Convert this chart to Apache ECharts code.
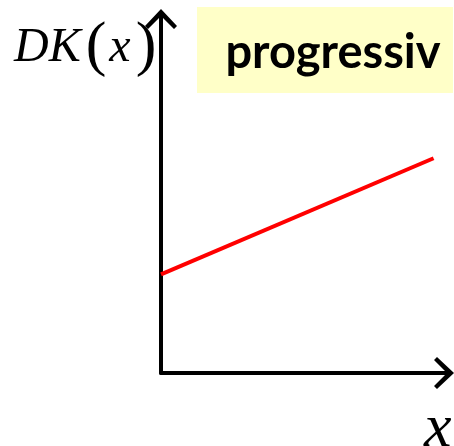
<!DOCTYPE html>
<html>
<head>
<meta charset="utf-8">
<script src="https://cdn.jsdelivr.net/npm/echarts@6/dist/echarts.min.js"></script>
<style>
  html, body { margin: 0; padding: 0; background: #fff; }
  #chart { width: 454px; height: 446px; }
</style>
</head>
<body>
<div id="chart"></div>
<script>
// values (unitless sketch axes, 0..10)
const xValues = [0, 9.7]
const yValues = [2.8, 6.1]
const badgeText = 'progressiv'
const yName = 'DK(x)'
const xName = 'x'

// open chevron arrow head (with a bit of stem so it joins the axis line)
const chevron = 'path://M16,0 L32,17 L29,20 L18,9 L18,24 L14,24 L14,9 L3,20 L0,17 Z'

const chart = echarts.init(document.getElementById('chart'))

const axisLine = {
  show: true,
  lineStyle: { color: '#000', width: 4 },
  symbol: ['none', chevron],
  symbolSize: [32, 24],
  symbolOffset: [0, 0],
}

chart.setOption({
  animation: false,
  grid: { left: 161, right: 12, top: 21, bottom: 73 },
  xAxis: {
    type: 'value',
    min: 0,
    max: 10,
    axisLine,
    axisTick: { show: false },
    axisLabel: { show: false },
    splitLine: { show: false },
  },
  yAxis: {
    type: 'value',
    min: 0,
    max: 10,
    axisLine,
    axisTick: { show: false },
    axisLabel: { show: false },
    splitLine: { show: false },
  },
  graphic: [
    {
      type: 'rect',
      shape: { x: 197, y: 7, width: 256, height: 86 },
      style: { fill: '#ffffc8' },
      z: 0,
    },
    {
      type: 'text',
      x: 333,
      y: 53,
      style: {
        text: badgeText,
        font: 'bold 47px Lato, "Open Sans", sans-serif',
        fill: '#000',
        align: 'center',
        verticalAlign: 'middle',
      },
    },
    {
      type: 'text',
      left: 14,
      top: 17,
      style: {
        text: '{i|DK}{p|(}{i|x}{p|)}',
        rich: {
          i: { font: 'italic 48px "Liberation Serif", serif', fill: '#000' },
          p: { font: '62px "Liberation Serif", serif', fill: '#000', padding: [0, 3, 0, 5] },
        },
      },
    },
    {
      type: 'text',
      left: 424,
      top: 399,
      style: {
        text: xName,
        font: 'italic 62px "Liberation Serif", serif',
        fill: '#000',
      },
    },
  ],
  series: [
    {
      type: 'line',
      data: xValues.map((x, i) => [x, yValues[i]]),
      showSymbol: false,
      lineStyle: { color: '#ff0000', width: 4 },
    },
  ],
})
</script>
</body>
</html>
